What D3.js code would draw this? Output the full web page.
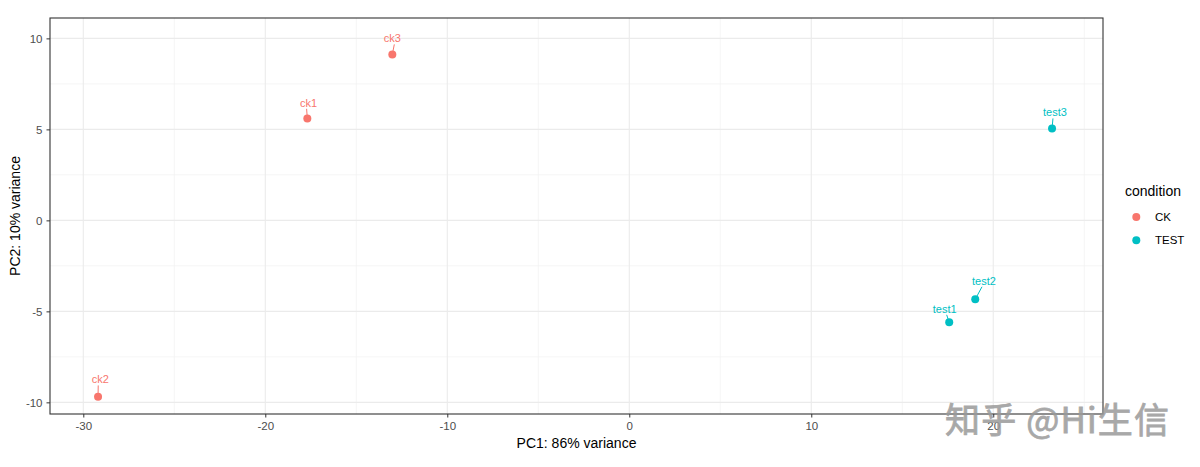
<!DOCTYPE html>
<html>
<head>
<meta charset="utf-8">
<script src="https://cdn.jsdelivr.net/npm/d3@7"></script>
<style>
  body { margin: 0; background: #fff; }
  text { font-family: "Liberation Sans", Arial, sans-serif; }
</style>
</head>
<body>
<div id="chart"></div>
<script>
// samples
const samples = ["ck1", "ck2", "ck3", "test1", "test2", "test3"]
const conditions = ["CK", "CK", "CK", "TEST", "TEST", "TEST"]
const pc1 = [-17.69, -29.19, -13.02, 17.58, 19.01, 23.23]
const pc2 = [5.60, -9.69, 9.12, -5.60, -4.34, 5.05]
// repelled label positions (data units)
const labelX = [-17.62, -29.07, -13.02, 17.33, 19.49, 23.39]
const labelY = [6.46, -8.74, 10.0, -4.86, -3.32, 5.93]

const xTicks = [-30, -20, -10, 0, 10, 20]
const yTicks = [-10, -5, 0, 5, 10]
const levels = ["CK", "TEST"]
const palette = ["#F8766D", "#00BFC4"]

const width = 1200, height = 467
const margin = { top: 18, right: 97, bottom: 53, left: 50 }

const svg = d3.select("#chart").append("svg")
  .attr("width", width)
  .attr("height", height)

const x = d3.scaleLinear()
  .domain([-31.83, 26.03])
  .range([margin.left, width - margin.right])

const y = d3.scaleLinear()
  .domain([-10.64, 11.12])
  .range([height - margin.bottom, margin.top])

const color = d3.scaleOrdinal().domain(levels).range(palette)

const data = samples.map((s, i) => ({
  name: s, cond: conditions[i], x: pc1[i], y: pc2[i], lx: labelX[i], ly: labelY[i]
}))

// grid
const grid = svg.append("g")
const minorX = xTicks.map(t => t + 5).concat([xTicks[0] - 5]).filter(t => t > x.domain()[0] && t < x.domain()[1])
const minorY = yTicks.map(t => t + 2.5).concat([yTicks[0] - 2.5]).filter(t => t > y.domain()[0] && t < y.domain()[1])

grid.selectAll(".minx").data(minorX).enter().append("line")
  .attr("x1", d => x(d)).attr("x2", d => x(d))
  .attr("y1", y.range()[0]).attr("y2", y.range()[1])
  .attr("stroke", "#F0F0F0").attr("stroke-width", 0.7)
grid.selectAll(".miny").data(minorY).enter().append("line")
  .attr("y1", d => y(d)).attr("y2", d => y(d))
  .attr("x1", x.range()[0]).attr("x2", x.range()[1])
  .attr("stroke", "#F0F0F0").attr("stroke-width", 0.7)
grid.selectAll(".majx").data(xTicks).enter().append("line")
  .attr("x1", d => x(d)).attr("x2", d => x(d))
  .attr("y1", y.range()[0]).attr("y2", y.range()[1])
  .attr("stroke", "#EBEBEB").attr("stroke-width", 1.1)
grid.selectAll(".majy").data(yTicks).enter().append("line")
  .attr("y1", d => y(d)).attr("y2", d => y(d))
  .attr("x1", x.range()[0]).attr("x2", x.range()[1])
  .attr("stroke", "#EBEBEB").attr("stroke-width", 1.1)

// axes
const fmt = d => String(d)
const xAxis = svg.append("g")
  .attr("transform", `translate(0, ${height - margin.bottom})`)
  .call(d3.axisBottom(x).tickValues(xTicks).tickFormat(fmt).tickSize(3.5).tickPadding(4))
const yAxis = svg.append("g")
  .attr("transform", `translate(${margin.left}, 0)`)
  .call(d3.axisLeft(y).tickValues(yTicks).tickFormat(fmt).tickSize(3.5).tickPadding(4))

;[xAxis, yAxis].forEach(a => {
  a.select(".domain").remove()
  a.selectAll(".tick line").attr("stroke", "#333333")
  a.selectAll(".tick text")
    .attr("fill", "#4D4D4D")
    .style("font-size", "11.5px")
    .style("font-family", "'Liberation Sans', Arial, sans-serif")
})

// panel border
svg.append("rect")
  .attr("x", x.range()[0]).attr("y", y.range()[1])
  .attr("width", x.range()[1] - x.range()[0])
  .attr("height", y.range()[0] - y.range()[1])
  .attr("fill", "none")
  .attr("stroke", "#333333")
  .attr("stroke-width", 1.1)

// label segments
svg.append("g").selectAll("line").data(data).enter().append("line")
  .attr("x1", d => x(d.x))
  .attr("y1", d => y(d.y))
  .attr("x2", d => x(d.lx) + (x(d.x) < x(d.lx) ? -2 : 2))
  .attr("y2", d => y(d.ly) + 6)
  .attr("stroke", d => color(d.cond))
  .attr("stroke-width", 1)

// points
svg.append("g").selectAll("circle").data(data).enter().append("circle")
  .attr("cx", d => x(d.x))
  .attr("cy", d => y(d.y))
  .attr("r", 4)
  .attr("fill", d => color(d.cond))

// labels
svg.append("g").selectAll("text").data(data).enter().append("text")
  .attr("x", d => x(d.lx))
  .attr("y", d => y(d.ly))
  .attr("dy", "0.35em")
  .attr("text-anchor", "middle")
  .attr("fill", d => color(d.cond))
  .style("font-size", "11px")
  .text(d => d.name)

// axis titles
svg.append("text")
  .attr("x", (x.range()[0] + x.range()[1]) / 2)
  .attr("y", 448)
  .attr("text-anchor", "middle")
  .attr("fill", "#000")
  .style("font-size", "14px")
  .text("PC1: 86% variance")

svg.append("text")
  .attr("transform", `translate(20, ${(y.range()[0] + y.range()[1]) / 2}) rotate(-90)`)
  .attr("text-anchor", "middle")
  .attr("fill", "#000")
  .style("font-size", "14px")
  .text("PC2: 10% variance")

// legend
const legend = svg.append("g").attr("transform", "translate(1125, 0)")
legend.append("text")
  .attr("x", 0).attr("y", 196)
  .attr("fill", "#000")
  .style("font-size", "14px")
  .text("condition")
const items = legend.selectAll(".item").data(levels).enter().append("g")
  .attr("transform", (d, i) => `translate(0, ${217 + i * 23.3})`)
items.append("circle")
  .attr("cx", 11.3).attr("cy", 0).attr("r", 4)
  .attr("fill", d => color(d))
items.append("text")
  .attr("x", 30).attr("y", 0).attr("dy", "0.35em")
  .attr("fill", "#000")
  .style("font-size", "11.5px")
  .text(d => d)

// watermark
svg.append("text")
  .attr("x", 945).attr("y", 433)
  .attr("fill", "#9a9a9a")
  .attr("opacity", 0.85)
  .attr("stroke", "#9a9a9a")
  .attr("stroke-width", 0.8)
  .attr("textLength", 224)
  .style("font-family", "'Noto Sans CJK SC', sans-serif")
  .style("font-size", "35px")
  .text("知乎 @Hi生信")
</script>
</body>
</html>
